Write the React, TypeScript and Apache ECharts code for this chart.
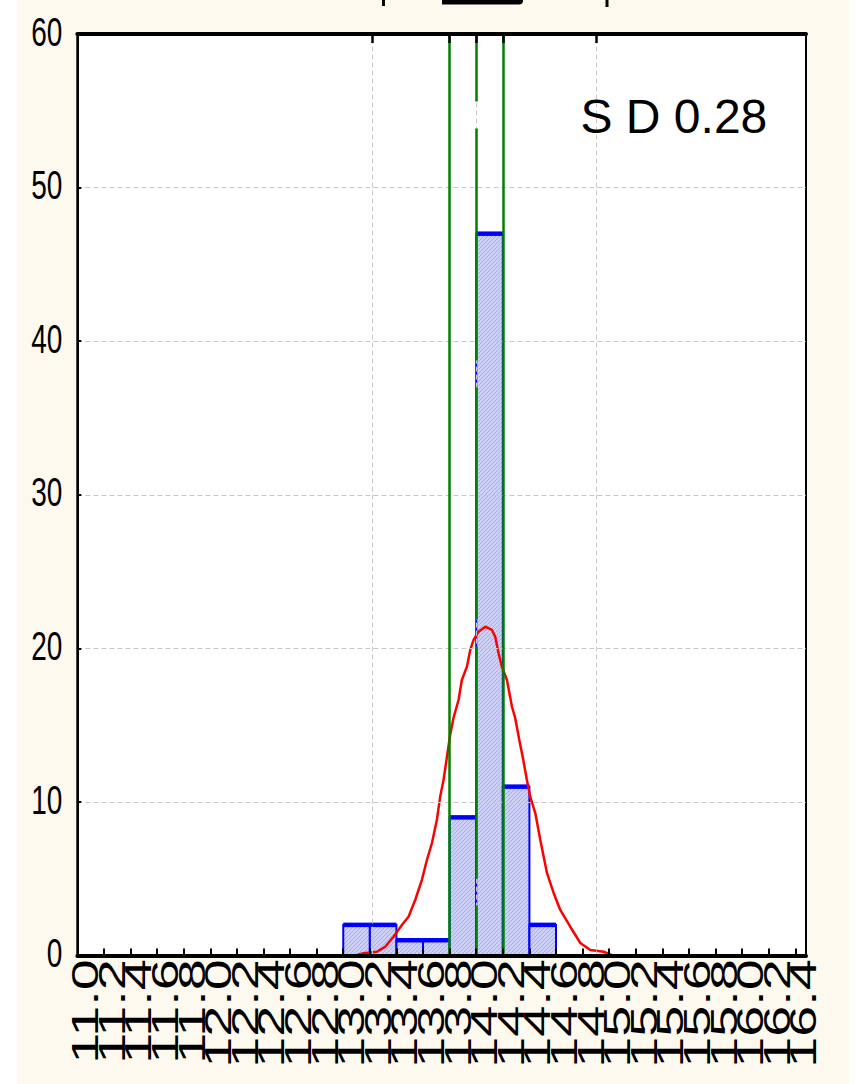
import React, { useEffect, useRef } from 'react';
import * as echarts from 'echarts';

// ---- data ----
const xTickLabels = [
  '11.0', '11.2', '11.4', '11.6', '11.8',
  '12.0', '12.2', '12.4', '12.6', '12.8',
  '13.0', '13.2', '13.4', '13.6', '13.8',
  '14.0', '14.2', '14.4', '14.6', '14.8',
  '15.0', '15.2', '15.4', '15.6', '15.8',
  '16.0', '16.2', '16.4',
];
const yTickLabels = ['0', '10', '20', '30', '40', '50', '60'];

const binStarts = [13.0, 13.2, 13.4, 13.6, 13.8, 14.0, 14.2, 14.4];
const binCounts = [2, 2, 1, 1, 9, 47, 11, 2];
const binWidth = 0.2;

const fitX = [
  11.0, 13.1, 13.152, 13.253, 13.315, 13.378, 13.441, 13.491, 13.541, 13.591,
  13.629, 13.667, 13.704, 13.729, 13.754, 13.782, 13.804, 13.829, 13.867, 13.892,
  13.93, 13.955, 13.98, 14.017, 14.068, 14.118, 14.143, 14.168, 14.193, 14.231,
  14.269, 14.293, 14.324, 14.354, 14.381, 14.406, 14.444, 14.482, 14.532, 14.582,
  14.632, 14.707, 14.783, 14.858, 14.958, 15.02, 16.48,
];
const fitY = [
  0, 0.03, 0.15, 0.25, 0.58, 1.23, 1.99, 2.53, 3.62, 4.92,
  6.22, 7.33, 8.83, 10.35, 11.43, 13.06, 14.36, 15.47, 16.64, 17.94,
  18.81, 19.9, 20.55, 21.09, 21.41, 21.2, 20.76, 19.68, 18.81, 17.94,
  16.2, 15.47, 14.04, 12.73, 11.43, 10.35, 9.28, 7.53, 5.38, 4.08,
  2.97, 1.88, 0.82, 0.36, 0.25, 0.03, 0,
];

const specLimits = [13.8, 14.2];
const targetValue = 14.0;
const greyRefLines = [13.22, 14.0, 14.9];
const topTickValues = [13.22, 13.8, 14.0, 14.2, 14.9];
const sdText = 'S D 0.28';

const xMin = 11.0;
const xMax = 16.48;
const FONT = '"Liberation Sans", Arial, sans-serif';

function makeHatch(): any {
  try {
    const c = document.createElement('canvas');
    c.width = 4;
    c.height = 4;
    const ctx = c.getContext('2d')!;
    ctx.fillStyle = '#cdd0f8';
    ctx.fillRect(0, 0, 4, 4);
    ctx.fillStyle = '#a7abee';
    for (let i = 0; i < 4; i++) ctx.fillRect(3 - i, i, 1, 1);
    return { image: c.toDataURL(), repeat: 'repeat', imageWidth: 4, imageHeight: 4 };
  } catch (e) {
    return '#c6c8f5';
  }
}

export default function App() {
  const ref = useRef<HTMLDivElement>(null);

  useEffect(() => {
    const chart = echarts.init(ref.current!, null, { renderer: 'svg' });
    const hatch = makeHatch();

    const option: any = {
      animation: false,
      grid: {
        left: 77.3,
        top: 34,
        right: 49,
        bottom: 128.4,
        show: true,
        backgroundColor: '#ffffff',
        borderColor: '#000000',
        borderWidth: 2,
      },
      xAxis: [
        {
          type: 'value',
          min: xMin,
          max: xMax,
          interval: 0.2,
          position: 'bottom',
          z: 5,
          axisLine: { show: true, onZero: false, lineStyle: { color: '#000', width: 4 } },
          axisTick: { show: true, inside: true, length: 7, lineStyle: { color: '#000', width: 2 } },
          axisLabel: { show: false },
          splitLine: { show: false },
        },
        {
          type: 'value',
          min: xMin,
          max: xMax,
          position: 'top',
          z: 5,
          axisLine: { show: true, onZero: false, lineStyle: { color: '#000', width: 4 } },
          axisTick: {
            show: true,
            inside: true,
            length: 9,
            customValues: topTickValues,
            lineStyle: { color: '#000', width: 2.5 },
          },
          axisLabel: { show: false },
          splitLine: { show: false },
        },
      ],
      yAxis: {
        type: 'value',
        min: 0,
        max: 60,
        interval: 10,
        z: 5,
        axisLine: { show: true, lineStyle: { color: '#000', width: 2 } },
        axisTick: { show: true, inside: true, length: 4, lineStyle: { color: '#000', width: 2 } },
        axisLabel: { show: false },
        splitLine: { show: true, lineStyle: { color: '#c8c8c8', width: 1, type: [5, 3] } },
      },
      graphic: [
        {
          type: 'text',
          x: 580.5,
          y: 116,
          z: 100,
          style: {
            text: sdText,
            font: `48px ${FONT}`,
            fill: '#000',
            align: 'left',
            verticalAlign: 'middle',
          },
        },
        { type: 'rect', shape: { x: 382, y: 0, width: 3, height: 6 }, style: { fill: '#000' } },
        { type: 'rect', shape: { x: 442, y: 0, width: 81, height: 4.5, r: [0, 0, 4, 0] }, style: { fill: '#000' } },
        { type: 'rect', shape: { x: 605.5, y: 0, width: 3, height: 7 }, style: { fill: '#000' } },
      ],
      series: [
        // grey reference lines (beneath bars)
        {
          type: 'line',
          data: [],
          z: 1,
          silent: true,
          markLine: {
            silent: true,
            symbol: ['none', 'none'],
            label: { show: false },
            lineStyle: { color: '#c8c8c8', width: 1, type: [5, 3] },
            data: greyRefLines.map((v) => ({ xAxis: v })),
          },
        },
        // histogram bars
        {
          type: 'custom',
          z: 2,
          data: binStarts.map((s, i) => [s, binCounts[i]]),
          encode: { x: 0, y: 1 },
          renderItem: (params: any, api: any) => {
            const x0 = api.value(0);
            const c = api.value(1);
            const p0 = api.coord([x0, c]);
            const p1 = api.coord([x0 + binWidth, 0]);
            return {
              type: 'group',
              children: [
                {
                  type: 'rect',
                  shape: { x: p0[0], y: p0[1], width: p1[0] - p0[0], height: p1[1] - p0[1] },
                  style: { fill: hatch, stroke: '#0000ff', lineWidth: 2 },
                },
                {
                  type: 'line',
                  shape: { x1: p0[0], y1: p0[1], x2: p1[0], y2: p0[1] },
                  style: { stroke: '#0000ff', lineWidth: 4.5 },
                },
              ],
            };
          },
        },
        // green spec / target lines
        {
          type: 'line',
          data: [],
          z: 3,
          silent: true,
          markLine: {
            silent: true,
            symbol: ['none', 'none'],
            label: { show: false },
            data: [
              ...specLimits.map((v) => ({
                xAxis: v,
                lineStyle: { color: '#008000', width: 2.5, type: 'solid' },
              })),
              {
                xAxis: targetValue,
                lineStyle: { color: '#008000', width: 2.5, type: [232, 27], dashOffset: 182 },
              },
            ],
          },
        },
        // fitted normal curve
        {
          type: 'line',
          z: 4,
          data: fitX.map((x, i) => [x, fitY[i]]),
          showSymbol: false,
          symbol: 'none',
          smooth: false,
          lineStyle: { color: '#ff0000', width: 2.5 },
        },
        // x tick labels
        {
          type: 'custom',
          z: 6,
          silent: true,
          data: xTickLabels.map((l) => [parseFloat(l), 0]),
          encode: { x: 0, y: 1 },
          renderItem: (params: any, api: any) => {
            const p = api.coord([api.value(0), 0]);
            return {
              type: 'text',
              x: p[0] + 8,
              y: p[1] + 3.5,
              rotation: Math.PI / 2,
              scaleX: 1.49,
              style: {
                text: xTickLabels[params.dataIndex],
                fontSize: 37.5,
                fontFamily: FONT,
                fill: '#000',
                align: 'right',
                verticalAlign: 'middle',
              },
            };
          },
        },
        // y tick labels
        {
          type: 'custom',
          z: 6,
          silent: true,
          data: yTickLabels.map((l) => [xMin, parseFloat(l)]),
          encode: { x: 0, y: 1 },
          renderItem: (params: any, api: any) => {
            const p = api.coord([xMin, api.value(1)]);
            return {
              type: 'text',
              x: p[0] - 15,
              y: p[1] - 3,
              scaleY: 1.48,
              style: {
                text: yTickLabels[params.dataIndex],
                fontSize: 28,
                fontFamily: FONT,
                fill: '#000',
                align: 'right',
                verticalAlign: 'middle',
              },
            };
          },
        },
      ],
    };

    chart.setOption(option);
    return () => chart.dispose();
  }, []);

  return (
    <div style={{ position: 'fixed', left: 0, top: 0, width: 855, height: 1084, background: '#ffffff' }}>
      <div style={{ position: 'absolute', left: 17, top: 0, width: 832, height: 1084, background: '#fdf9ee' }} />
      <div ref={ref} style={{ position: 'absolute', left: 0, top: 0, width: 855, height: 1084 }} />
    </div>
  );
}
